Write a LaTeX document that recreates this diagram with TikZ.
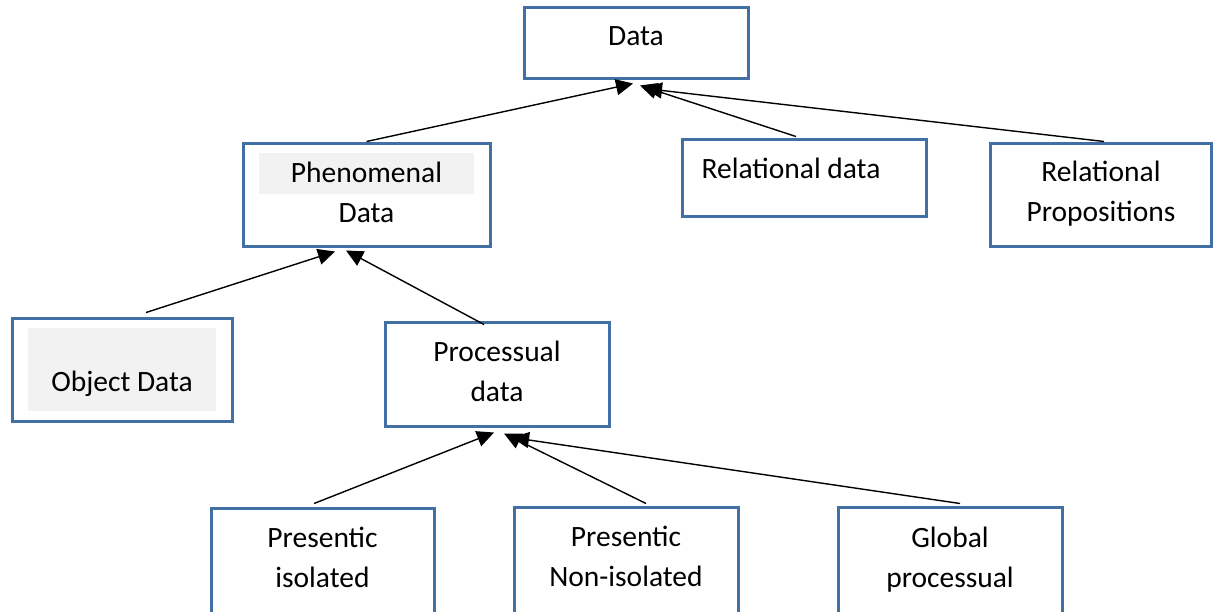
\documentclass[tikz,border=0pt]{standalone}
\usepackage{fontspec}
\setmainfont{Carlito}
\usetikzlibrary{arrows.meta}
\definecolor{boxblue}{RGB}{66,112,165}
\definecolor{shadegray}{RGB}{242,242,242}
\tikzset{
  box/.style={draw=boxblue, line width=3pt, minimum width=#1, inner sep=0pt},
  lbl/.style={anchor=base, inner sep=0pt, font=\fontsize{29.5}{40}\selectfont},
  arr/.style={line width=1.4pt, -{Triangle[length=17pt,width=16pt]}},
}
\newcommand{\two}[2]{\begin{tabular}[t]{@{}c@{}}#1\\#2\end{tabular}}
\begin{document}
\begin{tikzpicture}[x=1pt,y=-1pt]
\clip (0,0) rectangle (1214,611);
\fill[white] (0,0) rectangle (1214,611);
% shaded text backgrounds
\fill[shadegray] (259,153) rectangle (474,194);
\fill[shadegray] (28,328) rectangle (216,411);
% boxes
\node[box=224pt, minimum height=71pt] (data) at (636,42.5) {};
\node[box=247pt, minimum height=103pt] (pheno) at (366.5,194.5) {};
\node[box=244pt, minimum height=77pt] (reld) at (804,177.5) {};
\node[box=221pt, minimum height=103pt] (relp) at (1100.5,194.5) {};
\node[box=220pt, minimum height=103pt] (obj) at (122,369.5) {};
\node[box=224pt, minimum height=104pt] (proc) at (497,374) {};
\node[box=223pt, minimum height=122pt] (pi) at (322.5,569) {};
\node[box=224pt, minimum height=122pt] (pn) at (626,568) {};
\node[box=224pt, minimum height=122pt] (gp) at (950,568) {};
% labels
\node[lbl] (tdata) at (636,45) {Data};
\node[lbl] (tpheno) at (366.5,182) {\two{Phenomenal}{Data}};
\node[lbl] (treld) at (791,178) {Relational data};
\node[lbl] (trelp) at (1101,181) {\two{Relational}{Propositions}};
\node[lbl] (tobj) at (122,391) {Object Data};
\node[lbl] (tproc) at (497,361) {\two{Processual}{data}};
\node[lbl] (tpi) at (322.5,547) {\two{Presentic}{isolated}};
\node[lbl] (tpn) at (626,546) {\two{Presentic}{Non-isolated}};
\node[lbl] (tgp) at (950,547) {\two{Global}{processual}};
% connectors
\draw[arr] (pheno.north) -- ([xshift=-3pt,yshift=-4pt]data.south);
\draw[arr] ([xshift=-8pt,yshift=1pt]reld.north) -- ([xshift=4pt,yshift=-6pt]data.south);
\draw[arr] ([xshift=3.5pt]relp.north) -- ([xshift=9pt,yshift=-9pt]data.south);
\draw[arr] ([xshift=24pt,yshift=4pt]obj.north) -- ([xshift=-31.5pt,yshift=-4pt]pheno.south);
\draw[arr] ([xshift=-13pt,yshift=-4pt]proc.north) -- ([xshift=-20.5pt,yshift=-3pt]pheno.south);
\draw[arr] ([xshift=-8.5pt,yshift=3pt]pi.north) -- ([xshift=-3pt,yshift=-5pt]proc.south);
\draw[arr] ([xshift=20pt,yshift=2pt]pn.north) -- ([xshift=7pt,yshift=-6pt]proc.south);
\draw[arr] ([xshift=10pt,yshift=2pt]gp.north) -- ([xshift=15pt,yshift=-10pt]proc.south);
\end{tikzpicture}
\end{document}
